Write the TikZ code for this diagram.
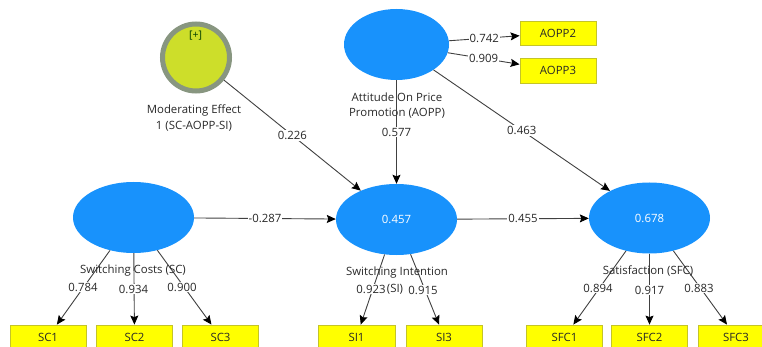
\documentclass[tikz,border=0pt]{standalone}
\usepackage{fontspec}
\setmainfont{Open Sans}
\usetikzlibrary{arrows.meta,shapes.geometric}
\definecolor{lvblue}{RGB}{24,146,252}
\definecolor{modfill}{RGB}{205,222,42}
\definecolor{modring}{RGB}{136,150,128}
\definecolor{boxfill}{RGB}{255,255,0}
\definecolor{boxline}{RGB}{196,196,40}
\definecolor{edgecol}{RGB}{64,64,64}
\definecolor{txtcol}{RGB}{40,40,40}
\begin{document}
\begin{tikzpicture}[x=1pt,y=-1pt,
  font=\fontsize{11.4}{15.5}\selectfont,
  lv/.style={ellipse, fill=lvblue, draw=none, minimum width=121pt, minimum height=71pt, inner sep=0pt, text=white},
  ind/.style={rectangle, fill=boxfill, draw=boxline, line width=0.8pt, minimum width=76pt, minimum height=24pt, inner sep=0pt, text=txtcol},
  modc/.style={circle, fill=modfill, draw=modring, line width=5pt, minimum size=67pt, inner sep=0pt},
  arr/.style={draw=edgecol, line width=0.9pt, -{Stealth[length=9pt,width=8pt,inset=1.5pt,fill=black,color=black]}},
  lbl/.style={fill=white, inner sep=1pt, text=txtcol},
  cname/.style={align=center, text=txtcol, inner sep=0pt}
]
\useasboundingbox (0,0) rectangle (762,347);
\clip (0,0) rectangle (762,347);

% constructs
\node[modc] (mod) at (196,57.5) {};
\node[text=black!60!green!60!black, font=\fontsize{10.5}{11}\selectfont] (plus) at (195.5,35.5) {[+]};
\node[lv, minimum width=105pt] (aopp) at (396.5,44.5) {};
\node[lv] (sc) at (133.5,217.5) {};
\node[lv] (si) at (396.5,219.5) {0.457};
\node[lv] (sfc) at (649.5,218) {0.678};

% indicators
\node[ind] (aopp2) at (558,33) {AOPP2};
\node[ind, minimum height=25pt] (aopp3) at (558,70.5) {AOPP3};
\node[ind] (sc1) at (48,337) {SC1};
\node[ind] (sc2) at (134.5,337) {SC2};
\node[ind] (sc3) at (220.5,337) {SC3};
\node[ind, minimum width=77pt] (si1) at (356.5,337) {SI1};
\node[ind] (si3) at (444,337) {SI3};
\node[ind] (sfc1) at (564.5,337) {SFC1};
\node[ind] (sfc2) at (649.5,337) {SFC2};
\node[ind] (sfc3) at (736,337) {SFC3};

% construct names
\node[cname] (modname) at (194,118) {Moderating Effect\\1 (SC-AOPP-SI)};
\node[cname] (aoppname) at (397,105.5) {Attitude On Price\\Promotion (AOPP)};

% structural paths
\draw[arr] (mod) -- node[lbl, pos=0.5] {0.226} (si);
\draw[arr] (aopp) -- node[lbl, pos=0.5] {0.577} (si);
\draw[arr] (aopp) -- node[lbl, pos=0.5] {0.463} (sfc);
\draw[arr] (sc) -- node[lbl, pos=0.5] {-0.287} (si);
\draw[arr] (si) -- node[lbl, pos=0.5] {0.455} (sfc);

% outer loadings
\draw[arr] (aopp) -- node[lbl, pos=0.5] {0.742} (aopp2);
\draw[arr] (aopp) -- node[lbl, pos=0.5] {0.909} (aopp3);

\draw[arr] (sc) -- (sc1);
\draw[arr] (sc) -- (sc2);
\draw[arr] (sc) -- (sc3);
\draw[arr] (si) -- (si1);
\draw[arr] (si) -- (si3);
\draw[arr] (sfc) -- (sfc1);
\draw[arr] (sfc) -- (sfc2);
\draw[arr] (sfc) -- (sfc3);

\node[cname] (scname) at (133,270.5) {Switching Costs (SC)};
\node[cname] (siname) at (397,273) {Switching Intention};
\node[cname] (sfcname) at (648,271) {Satisfaction (SFC)};

% loading labels (over the lines)
\node[lbl] (l784) at (83,287) {0.784};
\node[lbl] (l934) at (133.5,289) {0.934};
\node[lbl] (l900) at (182,287) {0.900};
\node[lbl] (l923) at (371,289) {0.923};
\node[cname] (sitag) at (395,289) {(SI)};
\node[lbl] (l915) at (423,290) {0.915};
\node[lbl] (l894) at (598,288) {0.894};
\node[lbl] (l917) at (649.5,290) {0.917};
\node[lbl] (l883) at (699,288) {0.883};
\end{tikzpicture}
\end{document}
